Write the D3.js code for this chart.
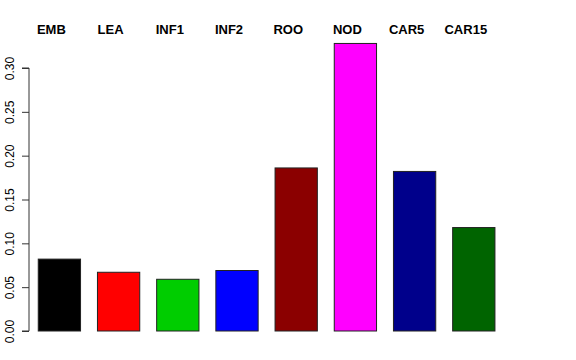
<!DOCTYPE html>
<html>
<head>
<meta charset="utf-8">
<script src="https://cdn.jsdelivr.net/npm/d3@7"></script>
<style>
  html, body { margin: 0; padding: 0; background: #fff; }
  svg { display: block; }
</style>
</head>
<body>
<svg id="chart" width="576" height="360"></svg>
<script>
const categories = ["EMB", "LEA", "INF1", "INF2", "ROO", "NOD", "CAR5", "CAR15"];
const values = [0.082, 0.067, 0.059, 0.069, 0.186, 0.328, 0.182, 0.118];
const colors = ["#000000", "#FF0000", "#00CD00", "#0000FF", "#8B0000", "#FF00FF", "#00008B", "#006400"];
const yTicks = [0.00, 0.05, 0.10, 0.15, 0.20, 0.25, 0.30];

const svg = d3.select("#chart");
const font = "'Liberation Sans', Arial, Helvetica, sans-serif";

const x = d3.scaleBand()
  .domain(categories)
  .range([29.8, 503.4])
  .paddingInner(0.4 / 1.4)
  .paddingOuter(0.2 / 1.4);

const y = d3.scaleLinear().domain([0, 0.30]).range([331, 68]);

// bars
svg.append("g").selectAll("rect")
  .data(categories)
  .join("rect")
  .attr("x", d => x(d))
  .attr("width", x.bandwidth())
  .attr("y", (d, i) => y(values[i]))
  .attr("height", (d, i) => y(0) - y(values[i]))
  .attr("fill", (d, i) => colors[i])
  .attr("stroke", "#222")
  .attr("stroke-width", 1);

// y axis
const yAxis = d3.axisLeft(y)
  .tickValues(yTicks)
  .tickFormat(d3.format(".2f"))
  .tickSize(7)
  .tickPadding(0);

const gy = svg.append("g")
  .attr("transform", "translate(29,0)")
  .call(yAxis);
gy.select(".domain").attr("stroke", "#333").attr("d", `M-7,${y(0)}H0V${y(0.30)}H-7`);
gy.selectAll(".tick line").attr("stroke", "#333");
gy.selectAll(".tick text")
  .attr("font-family", font)
  .attr("font-size", 12)
  .attr("fill", "#000")
  .attr("text-anchor", "middle")
  .attr("x", 0)
  .attr("dy", 0)
  .attr("transform", d => `translate(-15,0) rotate(-90)`);

// top labels
svg.append("g").selectAll("text")
  .data(categories)
  .join("text")
  .attr("x", d => x(d) + x.bandwidth() / 2 - 8)
  .attr("y", 34)
  .attr("text-anchor", "middle")
  .attr("font-family", font)
  .attr("font-weight", "bold")
  .attr("font-size", 13)
  .attr("fill", "#000")
  .text(d => d);
</script>
</body>
</html>
